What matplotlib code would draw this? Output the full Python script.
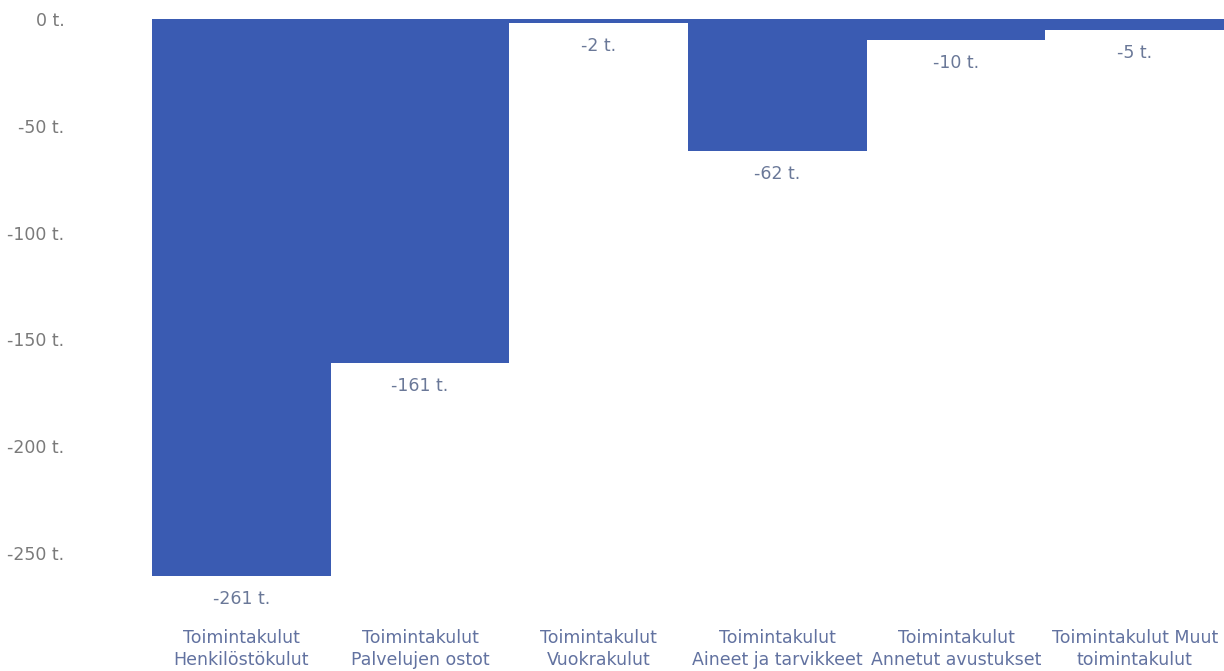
import matplotlib
matplotlib.use("Agg")
import matplotlib.pyplot as plt

categories = ["Toimintakulut\nHenkilöstökulut", "Toimintakulut\nPalvelujen ostot",
              "Toimintakulut\nVuokrakulut", "Toimintakulut\nAineet ja tarvikkeet",
              "Toimintakulut\nAnnetut avustukset", "Toimintakulut Muut\ntoimintakulut"]
values = [-261, -161, -2, -62, -10, -5]
yticks = [0, -50, -100, -150, -200, -250]
ytick_labels = ["0 t.", "-50 t.", "-100 t.", "-150 t.", "-200 t.", "-250 t."]

W, H = 1224, 671
fig = plt.figure(figsize=(W/100, H/100), dpi=100)
ax = fig.add_axes([152/W, 1-590/H, 1-152/W, (590-19)/H])

bar_color = "#3a5bb2"
x = list(range(len(values)))
ax.bar(x, values, width=1.0, color=bar_color, align="center")
ax.set_xlim(-0.5, len(values)-0.5)
ax.set_ylim(-(590-19)/2.136, 0)

ax.set_yticks(yticks)
ax.set_yticklabels(ytick_labels)
ax.tick_params(axis="y", length=0, pad=63, labelsize=12.5, labelcolor="#7a7a7a")
ax.set_xticks([])
for s in ax.spines.values():
    s.set_visible(False)

for xi, v in zip(x, values):
    ax.annotate(f"{v} t.", (xi, v), xytext=(0, -16.5), textcoords="offset points",
                ha="center", va="center", fontsize=12.5, color="#6a7898",
                annotation_clip=False)

for xi, c in zip(x, categories):
    l1, l2 = c.split("\n")
    fx = (152 + (xi + 0.5) * (W-152)/len(values)) / W
    fig.text(fx, 1-638/H, l1, ha="center", va="center", fontsize=12.5, color="#6272a0")
    fig.text(fx, 1-660/H, l2, ha="center", va="center", fontsize=12.5, color="#6272a0")

fig.savefig("out.png", dpi=100)
